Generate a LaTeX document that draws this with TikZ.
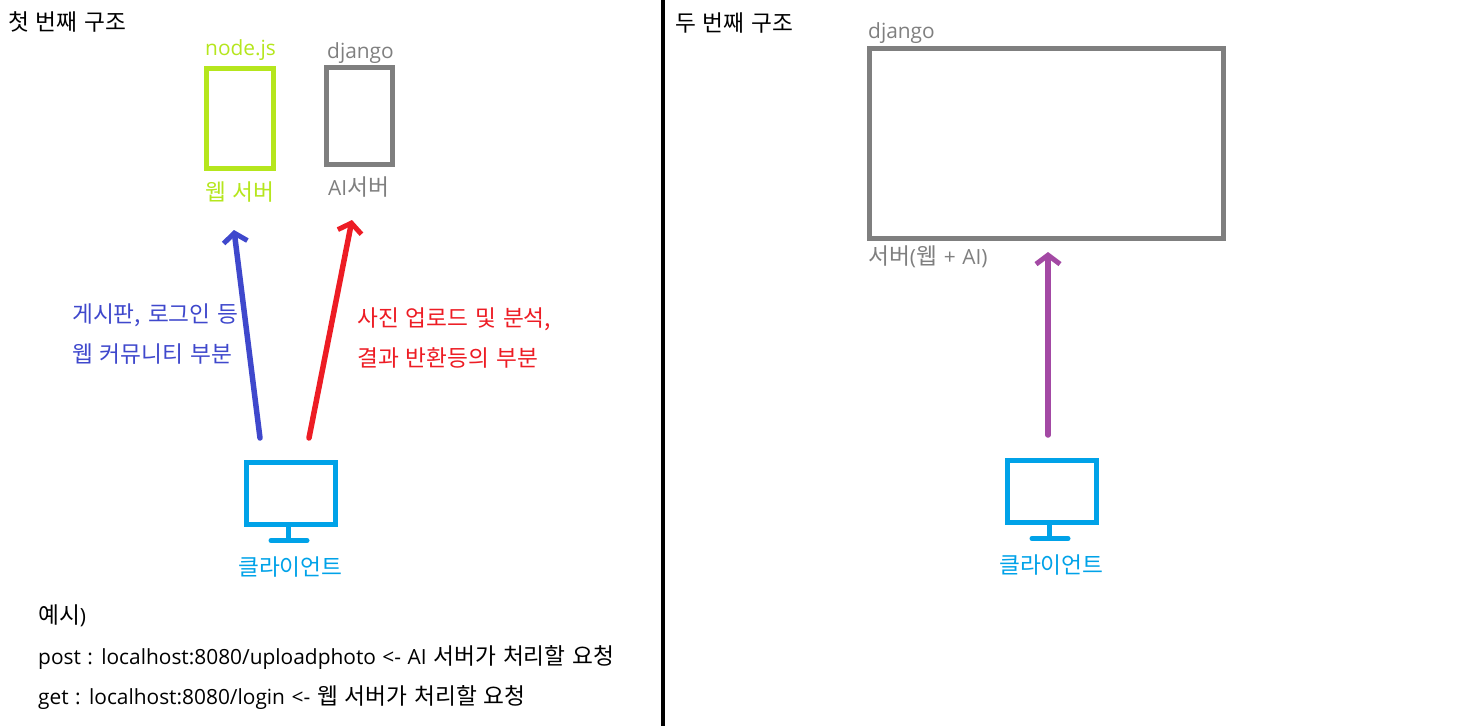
\documentclass[tikz,border=0pt]{standalone}
\usepackage{fontspec}
\setmainfont[WordSpace=1.35]{Noto Sans CJK KR}
\newfontfamily\lat[Scale=0.92,WordSpace=1.2]{Open Sans}
\usetikzlibrary{arrows.meta}
\definecolor{webgreen}{HTML}{B5E61D}
\definecolor{aigray}{HTML}{7F7F7F}
\definecolor{reqblue}{HTML}{3F48CC}
\definecolor{reqred}{HTML}{ED1C24}
\definecolor{reqpurple}{HTML}{A349A4}
\definecolor{clientcyan}{HTML}{00A2E8}
\begin{document}
\begin{tikzpicture}[x=1pt,y=-1pt]
        \tikzstyle{server}=[rectangle,line width=5pt,outer sep=0pt,inner sep=0pt]
        \tikzstyle{monitor}=[rectangle,draw=clientcyan,line width=5pt,outer sep=0pt,inner sep=0pt,minimum width=89pt,minimum height=62pt]
        \tikzstyle{label}=[anchor=base west,inner sep=0pt,font=\fontsize{22.7}{26}\selectfont]
        \tikzstyle{request}=[line width=5.5pt,line cap=round,-{Straight Barb[length=9pt,width=24pt,line width=5pt]}]
        \tikzstyle{stand}=[draw=clientcyan,line width=5pt]
        \useasboundingbox (0,0) rectangle (1462,726);
        \draw [line width=4.5pt] (663,0) -- (663,726);
        % first layout
        \node [label] (title1) at (8,30) {첫 번째 구조};
        \node [server,draw=webgreen,minimum width=67pt,minimum height=100pt] (web) at (240,118.5) {};
        \node [server,draw=aigray,minimum width=66pt,minimum height=97pt] (ai) at (359.5,116) {};
        \node [label,text=webgreen] (webtop) at (205,55) {\lat node.js};
        \node [label,text=aigray] (aitop) at (327,58) {\lat django};
        \node [label,text=webgreen] (webname) at (205,200.5) {웹 서버};
        \node [label,text=aigray] (ainame) at (328,195) {{\lat AI}서버};
        \node [label,text=reqblue] (blue1) at (72,322) {게시판, 로그인 등};
        \node [label,text=reqblue] (blue2) at (72,362) {웹 커뮤니티 부분};
        \node [label,text=reqred] (red1) at (357,326) {사진 업로드 및 분석,};
        \node [label,text=reqred] (red2) at (357,366) {결과 반환등의 부분};
        \node [monitor] (client1) at (291,493.5) {};
        \draw [stand] (288.5,527) -- (288.5,538);
        \draw [stand,line cap=round] (271,540.5) -- (307,540.5);
        \node [label,text=clientcyan] (clientname1) at (238,575) {클라이언트};
        \coordinate (bluefrom) at (260,438);
        \coordinate (blueto) at (234,230);
        \coordinate (redfrom) at (309,438);
        \coordinate (redto) at (352,220);
        \draw [request,reqblue] (bluefrom) -- (blueto);
        \draw [request,reqred] (redfrom) -- (redto);
        \node [label] (ex1) at (38,623) {예시{\lat )}};
        \node [label] (ex2) at (38,664) {{\lat post : localhost:8080/uploadphoto <- AI} 서버가 처리할 요청};
        \node [label] (ex3) at (38,704) {{\lat get : localhost:8080/login <-} 웹 서버가 처리할 요청};
        % second layout
        \node [label] (title2) at (675,31) {두 번째 구조};
        \node [server,draw=aigray,minimum width=354pt,minimum height=190pt] (both) at (1046.5,143.5) {};
        \node [label,text=aigray] (bothtop) at (868,38) {\lat django};
        \node [label,text=aigray] (bothname) at (868,264) {서버{\lat (}웹 {\lat + AI)}};
        \node [monitor] (client2) at (1052,491.5) {};
        \draw [stand] (1049.5,525) -- (1049.5,536);
        \draw [stand,line cap=round] (1032,538.5) -- (1068,538.5);
        \node [label,text=clientcyan] (clientname2) at (999,573) {클라이언트};
        \coordinate (purplefrom) at (1048,435);
        \coordinate (purpleto) at (1048,252);
        \draw [request,reqpurple] (purplefrom) -- (purpleto);
\end{tikzpicture}
\end{document}
